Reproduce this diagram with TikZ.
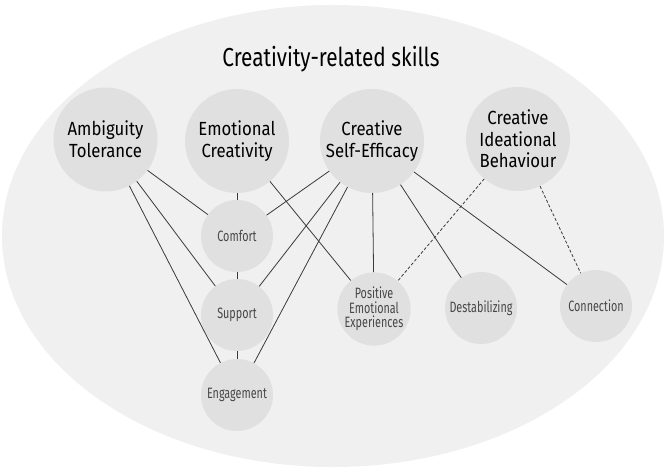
\documentclass[tikz,border=0pt]{standalone}
\usepackage{fontspec}
\setmainfont[FakeStretch=0.8]{Fira Sans}
\newfontfamily\bigfont[FakeStretch=0.88]{Fira Sans}
\newfontfamily\smallfont[FakeStretch=0.72]{Fira Sans}
\definecolor{ellfill}{HTML}{F0F0F0}
\definecolor{circfill}{HTML}{E0E0E0}
\definecolor{linecol}{HTML}{3A3A3A}
\definecolor{smalltext}{HTML}{474747}
\tikzset{
  bigcirc/.style={circle, fill=circfill, minimum size=104pt, inner sep=0pt, align=center,
    font=\bigfont\fontsize{19}{21.7}\selectfont, text=black},
  smallcirc/.style={circle, fill=circfill, minimum size=72pt, inner sep=0pt, align=center,
    font=\smallfont\fontsize{15}{14.7}\selectfont, text=smalltext},
  link/.style={draw=linecol, line width=0.8pt},
  dlink/.style={draw=linecol, line width=0.8pt, dash pattern=on 3pt off 2pt},
}
\begin{document}
\begin{tikzpicture}[x=1pt,y=-1pt]
\useasboundingbox (0,0) rectangle (669,473);
\fill[white] (0,0) rectangle (669,473);
\fill[ellfill] (333,236) ellipse [x radius=331, y radius=231];
\node[font=\fontsize{26}{29}\selectfont, text=black] (title) at (331,59) {Creativity-related skills};
\node[bigcirc] (at) at (105.5,139.5) {Ambiguity\\Tolerance};
\node[bigcirc] (ec) at (237,141) {Emotional\\Creativity};
\node[bigcirc] (cse) at (372,141) {Creative\\Self-Efficacy};
\node[bigcirc] (cib) at (518,139) {Creative\\Ideational\\Behaviour};
\node[smallcirc] (com) at (237,236) {Comfort};
\node[smallcirc] (sup) at (237,315) {Support};
\node[smallcirc] (eng) at (237,395) {Engagement};
\node[smallcirc] (pee) at (374,309) {Positive\\Emotional\\Experiences};
\node[smallcirc] (des) at (481,308) {Destabilizing};
\node[smallcirc] (con) at (596,306) {Connection};
\draw[link] (at) -- (com);
\draw[link] (at) -- (sup);
\draw[link] (at) -- (eng);
\draw[link] (ec) -- (com);
\draw[link] (ec) -- (pee);
\draw[link] (com) -- (sup);
\draw[link] (sup) -- (eng);
\draw[link] (cse) -- (com);
\draw[link] (cse) -- (sup);
\draw[link] (cse) -- (eng);
\draw[link] (cse) -- (pee);
\draw[link] (cse) -- (des);
\draw[link] (cse) -- (con);
\draw[dlink] (cib) -- (pee);
\draw[dlink] (cib) -- (con);
\end{tikzpicture}
\end{document}
